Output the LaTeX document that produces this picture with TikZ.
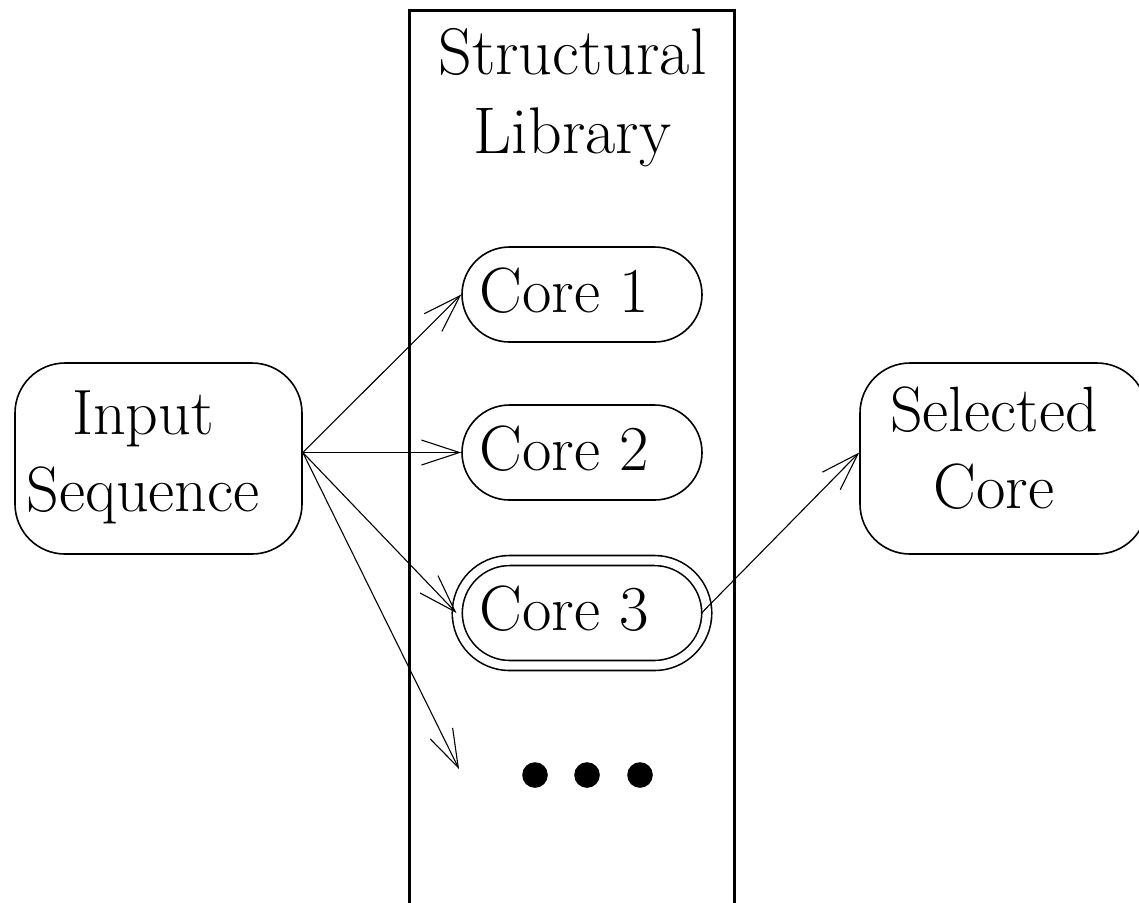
\documentclass[tikz,border=0pt]{standalone}
\usetikzlibrary{arrows.meta,positioning}
\tikzset{>={Straight Barb[length=19pt,width=12.5pt]},
  every node/.style={font=\fontsize{32}{38.5}\selectfont},
  wall/.style={draw,line width=1.5pt},
  endbox/.style={draw,line width=.8pt,rounded corners=25pt,minimum width=143.5pt,
    minimum height=95.5pt,inner sep=0pt},
  core/.style={draw,line width=.8pt,rounded corners=23.75pt,minimum width=120pt,
    minimum height=47.5pt,inner sep=0pt},
  picked/.style={core,double,double distance=4.2pt,minimum width=124.75pt,
    minimum height=52.5pt,rounded corners=26.25pt},
  feed/.style={->,line width=.55pt}}

\begin{document}
\begin{tikzpicture}[x=.5pt,y=-.5pt]
\useasboundingbox (0,0) rectangle (1139,902);

% library column, left open at the bottom
\draw[wall] (409.5,912)--(409.5,10)--(734,10)--(734,912);
\node[align=center,font=\fontsize{33}{39.5}\selectfont] (libname) at (572.5,97.5) {Structural\\Library};

% cores, names set a little left of the box centre
\foreach \i/\y/\s in {1/294.5/core,2/452.5/core,3/613/picked}{
  \node[\s] (c\i) at (582,\y) {};
  \node (t\i) at (564,\y-4) {Core \i};
}
\foreach \x in {535,587,640} \fill (\x,775) circle (12.8);
\coordinate (more) at (459,769);

\node[endbox] (seq) at (158.5,458.5) {};
\node[align=center] (seqtext) at (143,457.5) {Input\\Sequence};
\node[endbox] (sel) at (1003.5,458.5) {};
\node[align=center] (seltext) at (994,448.5) {Selected\\Core};

\coordinate (fan) at ([yshift=3pt]seq.east);
\foreach \t in {c1,c2,c3} \draw[feed] (fan)--(\t.west);
\draw[feed] (fan)--(more);
\draw[feed] ([xshift=-3pt]c3.east)--([yshift=3pt]sel.west);
\end{tikzpicture}
\end{document}
